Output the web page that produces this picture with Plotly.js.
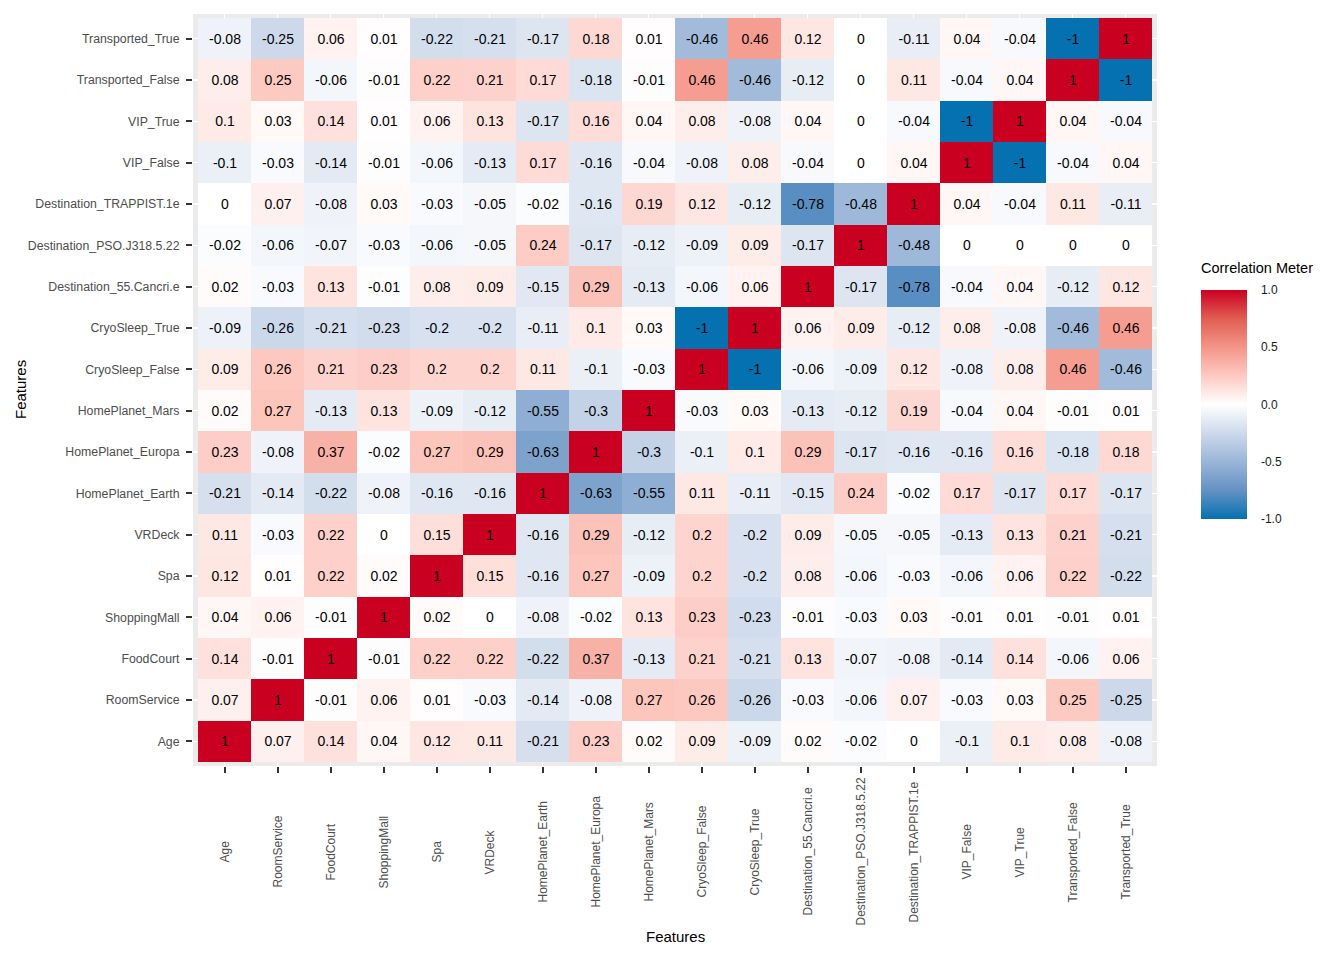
<!DOCTYPE html>
<html>
<head>
<meta charset="utf-8">
<script src="https://cdn.plot.ly/plotly-3.0.1.min.js"></script>
<style>html,body{margin:0;padding:0;background:#fff;}#chart{width:1344px;height:960px;}</style>
</head>
<body>
<div id="chart"></div>
<script>
// Feature names (bottom-to-top on y, left-to-right on x)
const features = ["Age","RoomService","FoodCourt","ShoppingMall","Spa","VRDeck",
  "HomePlanet_Earth","HomePlanet_Europa","HomePlanet_Mars","CryoSleep_False","CryoSleep_True",
  "Destination_55.Cancri.e","Destination_PSO.J318.5.22","Destination_TRAPPIST.1e",
  "VIP_False","VIP_True","Transported_False","Transported_True"];

// Correlation rows (one per feature, columns in the same order as features)
const rowAge              = [1, 0.07, 0.14, 0.04, 0.12, 0.11, -0.21, 0.23, 0.02, 0.09, -0.09, 0.02, -0.02, 0, -0.1, 0.1, 0.08, -0.08];
const rowRoomService      = [0.07, 1, -0.01, 0.06, 0.01, -0.03, -0.14, -0.08, 0.27, 0.26, -0.26, -0.03, -0.06, 0.07, -0.03, 0.03, 0.25, -0.25];
const rowFoodCourt        = [0.14, -0.01, 1, -0.01, 0.22, 0.22, -0.22, 0.37, -0.13, 0.21, -0.21, 0.13, -0.07, -0.08, -0.14, 0.14, -0.06, 0.06];
const rowShoppingMall     = [0.04, 0.06, -0.01, 1, 0.02, 0, -0.08, -0.02, 0.13, 0.23, -0.23, -0.01, -0.03, 0.03, -0.01, 0.01, -0.01, 0.01];
const rowSpa              = [0.12, 0.01, 0.22, 0.02, 1, 0.15, -0.16, 0.27, -0.09, 0.2, -0.2, 0.08, -0.06, -0.03, -0.06, 0.06, 0.22, -0.22];
const rowVRDeck           = [0.11, -0.03, 0.22, 0, 0.15, 1, -0.16, 0.29, -0.12, 0.2, -0.2, 0.09, -0.05, -0.05, -0.13, 0.13, 0.21, -0.21];
const rowHomePlanetEarth  = [-0.21, -0.14, -0.22, -0.08, -0.16, -0.16, 1, -0.63, -0.55, 0.11, -0.11, -0.15, 0.24, -0.02, 0.17, -0.17, 0.17, -0.17];
const rowHomePlanetEuropa = [0.23, -0.08, 0.37, -0.02, 0.27, 0.29, -0.63, 1, -0.3, -0.1, 0.1, 0.29, -0.17, -0.16, -0.16, 0.16, -0.18, 0.18];
const rowHomePlanetMars   = [0.02, 0.27, -0.13, 0.13, -0.09, -0.12, -0.55, -0.3, 1, -0.03, 0.03, -0.13, -0.12, 0.19, -0.04, 0.04, -0.01, 0.01];
const rowCryoSleepFalse   = [0.09, 0.26, 0.21, 0.23, 0.2, 0.2, 0.11, -0.1, -0.03, 1, -1, -0.06, -0.09, 0.12, -0.08, 0.08, 0.46, -0.46];
const rowCryoSleepTrue    = [-0.09, -0.26, -0.21, -0.23, -0.2, -0.2, -0.11, 0.1, 0.03, -1, 1, 0.06, 0.09, -0.12, 0.08, -0.08, -0.46, 0.46];
const rowDest55Cancri     = [0.02, -0.03, 0.13, -0.01, 0.08, 0.09, -0.15, 0.29, -0.13, -0.06, 0.06, 1, -0.17, -0.78, -0.04, 0.04, -0.12, 0.12];
const rowDestPSO          = [-0.02, -0.06, -0.07, -0.03, -0.06, -0.05, 0.24, -0.17, -0.12, -0.09, 0.09, -0.17, 1, -0.48, 0, 0, 0, 0];
const rowDestTRAPPIST     = [0, 0.07, -0.08, 0.03, -0.03, -0.05, -0.02, -0.16, 0.19, 0.12, -0.12, -0.78, -0.48, 1, 0.04, -0.04, 0.11, -0.11];
const rowVIPFalse         = [-0.1, -0.03, -0.14, -0.01, -0.06, -0.13, 0.17, -0.16, -0.04, -0.08, 0.08, -0.04, 0, 0.04, 1, -1, -0.04, 0.04];
const rowVIPTrue          = [0.1, 0.03, 0.14, 0.01, 0.06, 0.13, -0.17, 0.16, 0.04, 0.08, -0.08, 0.04, 0, -0.04, -1, 1, 0.04, -0.04];
const rowTransportedFalse = [0.08, 0.25, -0.06, -0.01, 0.22, 0.21, 0.17, -0.18, -0.01, 0.46, -0.46, -0.12, 0, 0.11, -0.04, 0.04, 1, -1];
const rowTransportedTrue  = [-0.08, -0.25, 0.06, 0.01, -0.22, -0.21, -0.17, 0.18, 0.01, -0.46, 0.46, 0.12, 0, -0.11, 0.04, -0.04, -1, 1];

const corr = [rowAge, rowRoomService, rowFoodCourt, rowShoppingMall, rowSpa, rowVRDeck,
  rowHomePlanetEarth, rowHomePlanetEuropa, rowHomePlanetMars, rowCryoSleepFalse, rowCryoSleepTrue,
  rowDest55Cancri, rowDestPSO, rowDestTRAPPIST, rowVIPFalse, rowVIPTrue, rowTransportedFalse, rowTransportedTrue];

const colorbarTicks = [-1, -0.5, 0, 0.5, 1];
const colorbarTickText = ["-1.0", "-0.5", "0.0", "0.5", "1.0"];
const legendTitle = "Correlation Meter";

const FONT = "Liberation Sans, Arial, Helvetica, sans-serif";

const W = 1344, H = 960;
const L = 193, R = 1157, T = 14, B = 766;
const pw = R - L, ph = B - T;
const xLabelCenterPx = 852;

const trace = {
  type: "heatmap",
  x: features,
  y: features,
  z: corr,
  text: corr.map(r => r.map(v => String(v))),
  texttemplate: "%{text}",
  textfont: {family: FONT, size: 14, color: "#000000"},
  zmin: -1, zmax: 1,
  colorscale: [
    [0, "rgb(5,113,176)"],
    [0.125, "rgb(99,146,196)"],
    [0.25, "rgb(154,181,215)"],
    [0.375, "rgb(205,217,235)"],
    [0.5, "rgb(255,255,255)"],
    [0.625, "rgb(253,202,194)"],
    [0.75, "rgb(243,149,136)"],
    [0.875, "rgb(225,93,82)"],
    [1, "rgb(202,0,32)"]
  ],
  xgap: 0, ygap: 0,
  hoverongaps: false,
  colorbar: {
    x: (1201 - L) / pw, xanchor: "left", xpad: 0,
    y: (B - 519) / ph, yanchor: "bottom", ypad: 0,
    thickness: 46, thicknessmode: "pixels",
    len: 229, lenmode: "pixels",
    outlinewidth: 0,
    tickmode: "array", tickvals: colorbarTicks, ticktext: colorbarTickText,
    ticks: "outside", ticklen: 12, tickcolor: "rgba(0,0,0,0)",
    tickfont: {family: FONT, size: 12, color: "#1a1a1a"}
  }
};

const annotations = features.map(f => ({
  x: f, xref: "x", y: (B - xLabelCenterPx) / ph, yref: "paper",
  text: f, showarrow: false, textangle: -90,
  xanchor: "center", yanchor: "middle",
  font: {family: FONT, size: 12, color: "#4D4D4D"}
}));
annotations.push({
  x: 0.5, xref: "paper", y: (B - 937) / ph, yref: "paper",
  text: "Features", showarrow: false, xanchor: "center", yanchor: "middle",
  font: {family: FONT, size: 15, color: "#000000"}
});
annotations.push({
  x: (20 - L) / pw, xref: "paper", y: (B - 390) / ph, yref: "paper",
  text: "Features", showarrow: false, textangle: -90, xanchor: "center", yanchor: "middle",
  font: {family: FONT, size: 15, color: "#000000"}
});
annotations.push({
  x: (1201 - L) / pw, xref: "paper", xanchor: "left",
  y: (B - 268) / ph, yref: "paper", yanchor: "middle",
  text: legendTitle, showarrow: false, borderpad: 0, xshift: -1,
  font: {family: FONT, size: 14.5, color: "#000000"}
});

const layout = {
  width: W, height: H,
  margin: {l: L, r: W - R, t: T, b: H - B, pad: 0},
  paper_bgcolor: "#FFFFFF",
  plot_bgcolor: "#EBEBEB",
  font: {family: FONT},
  xaxis: {
    type: "category",
    range: [-0.5 - 5/53, 17.5 + 5/53],
    showgrid: true, gridcolor: "#FFFFFF", gridwidth: 1.2,
    zeroline: false, showline: false,
    ticks: "outside", ticklen: 6, tickwidth: 2, tickcolor: "#333333",
    showticklabels: false,
    fixedrange: true
  },
  yaxis: {
    type: "category",
    range: [-0.5 - 4/41.33, 17.5 + 4/41.33],
    showgrid: true, gridcolor: "#FFFFFF", gridwidth: 1.2,
    zeroline: false, showline: false,
    ticks: "outside", ticklen: 6, tickwidth: 2, tickcolor: "#333333",
    ticklabelstandoff: 4,
    tickfont: {family: FONT, size: 12.3, color: "#4D4D4D"},
    fixedrange: true
  },
  annotations: annotations
};

Plotly.newPlot("chart", [trace], layout, {displayModeBar: false, staticPlot: true});
</script>
</body>
</html>
